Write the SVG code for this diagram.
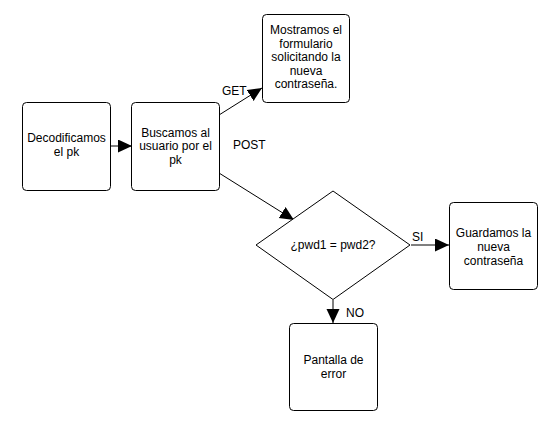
<svg xmlns="http://www.w3.org/2000/svg" width="549" height="423" viewBox="0 0 549 423">
<style>
.n{fill:#fff;stroke:#000;stroke-width:1}
text{font-family:"Liberation Sans",Arial,sans-serif;font-size:12px;fill:#000}
.c{text-anchor:middle}
.e{fill:none;stroke:#000;stroke-width:1}
</style>
<defs>
<marker id="a" markerUnits="userSpaceOnUse" markerWidth="15" markerHeight="14" refX="14" refY="6.5" orient="auto">
<path d="M0,0 L14,6.5 L0,13 z" fill="#000"/>
</marker>
</defs>
<rect width="549" height="423" fill="#fff"/>
<g id="connectors">
<line class="e" x1="110" y1="146" x2="132" y2="146" marker-end="url(#a)"/>
<line class="e" x1="219" y1="115" x2="262" y2="88" marker-end="url(#a)"/>
<line class="e" x1="219" y1="173" x2="294" y2="220" marker-end="url(#a)"/>
<line class="e" x1="411" y1="245" x2="449" y2="245" marker-end="url(#a)"/>
<line class="e" x1="333" y1="300" x2="333" y2="323" marker-end="url(#a)"/>
<text x="222" y="95">GET</text>
<text x="233" y="149">POST</text>
<text x="412" y="241">SI</text>
<text x="346" y="317">NO</text>
</g>
<g id="decodificamos">
<rect class="n" x="22.5" y="102.5" width="88" height="88" rx="4"/>
<text class="c" x="66.5" y="142">Decodificamos</text>
<text class="c" x="66.5" y="156">el pk</text>
</g>
<g id="buscamos">
<rect class="n" x="131.5" y="102.5" width="88" height="88" rx="4"/>
<text class="c" x="175.5" y="136.5">Buscamos al</text>
<text class="c" x="175.5" y="150">usuario por el</text>
<text class="c" x="175.5" y="164">pk</text>
</g>
<g id="mostramos">
<rect class="n" x="262.5" y="14.5" width="87" height="88" rx="4"/>
<text class="c" x="306" y="34">Mostramos el</text>
<text class="c" x="306" y="47.5">formulario</text>
<text class="c" x="306" y="61">solicitando la</text>
<text class="c" x="306" y="74.5">nueva</text>
<text class="c" x="306" y="88">contraseña.</text>
</g>
<g id="decision">
<polygon class="n" points="256,245 333,191 410,245 333,299.5"/>
<text class="c" x="333" y="249">¿pwd1 = pwd2?</text>
</g>
<g id="guardamos">
<rect class="n" x="449.5" y="202.5" width="88" height="87" rx="4"/>
<text class="c" x="493.5" y="237">Guardamos la</text>
<text class="c" x="493.5" y="251">nueva</text>
<text class="c" x="493.5" y="265">contraseña</text>
</g>
<g id="error">
<rect class="n" x="289.5" y="323.5" width="88" height="87" rx="4"/>
<text class="c" x="333.5" y="364">Pantalla de</text>
<text class="c" x="333.5" y="378">error</text>
</g>
</svg>
